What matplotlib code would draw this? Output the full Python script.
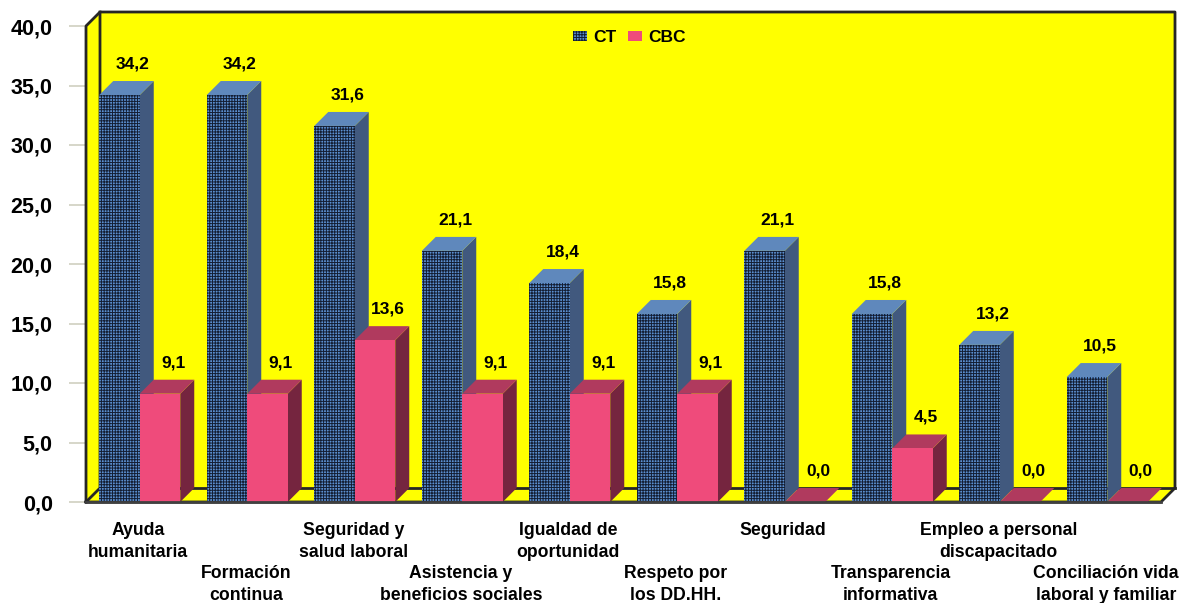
import matplotlib
matplotlib.use("Agg")
import matplotlib.pyplot as plt
from matplotlib.patches import Polygon, Rectangle

plt.rcParams["font.family"] = ["Liberation Sans", "DejaVu Sans"]
plt.rcParams["font.weight"] = "bold"
plt.rcParams["hatch.linewidth"] = 0.7

categorias = [
    "Ayuda\nhumanitaria", "Formación\ncontinua", "Seguridad y\nsalud laboral",
    "Asistencia y\nbeneficios sociales", "Igualdad de\noportunidad",
    "Respeto por\nlos DD.HH.", "Seguridad", "Transparencia\ninformativa",
    "Empleo a personal\ndiscapacitado", "Conciliación vida\nlaboral y familiar",
]
ct = [34.2, 34.2, 31.6, 21.1, 18.4, 15.8, 21.1, 15.8, 13.2, 10.5]
cbc = [9.1, 9.1, 13.6, 9.1, 9.1, 9.1, 0.0, 4.5, 0.0, 0.0]
ticks = [0, 5, 10, 15, 20, 25, 30, 35, 40]

W, H = 1186, 603
PX = 0.72  # puntos por pixel a dpi 100
fig = plt.figure(figsize=(W / 100, H / 100), dpi=100, facecolor="white")
ax = fig.add_axes([86 / W, 1 - 502 / H, 1075 / W, 476 / H])
ax.set_xlim(0, 10)
ax.set_ylim(0, 40)
ax.patch.set_visible(False)
for s in ax.spines.values():
    s.set_visible(False)

# profundidad 3D en unidades de datos
dx = 14 / 107.5
dy = 14 / 11.9
ancho = 40.5 / 107.5


def poly(pts, color, z):
    ax.add_patch(Polygon(pts, closed=True, facecolor=color, edgecolor="none", lw=0,
                         zorder=z, clip_on=False))


def barra(x0, v, frente, lado, tapa, z, hatch=None):
    x1 = x0 + ancho
    poly([(x1, 0), (x1 + dx, dy), (x1 + dx, v + dy), (x1, v)], lado, z)
    poly([(x0, v), (x0 + dx, v + dy), (x1 + dx, v + dy), (x1, v)], tapa, z)
    if v > 0:
        ax.add_patch(Rectangle((x0, 0), ancho, v, facecolor=frente, edgecolor="#141e33",
                               hatch=hatch, lw=0, zorder=z))


def etiqueta(x, v, valor):
    ax.annotate(f"{valor:.1f}".replace(".", ","), (x, v), xytext=(13 * PX, 31 * PX),
                textcoords="offset points", ha="center", va="center", fontsize=12.5, zorder=9)


# paredes y suelo
amarillo = "#ffff00"
borde = "#262626"
poly([(dx, dy), (10 + dx, dy), (10 + dx, 40 + dy), (dx, 40 + dy)], amarillo, 1)
poly([(0, 0), (dx, dy), (dx, 40 + dy), (0, 40)], amarillo, 1)
poly([(0, 0), (10, 0), (10 + dx, dy), (dx, dy)], amarillo, 1)
ax.plot([0, 0, dx, 10 + dx, 10 + dx, 10, 0], [0, 40, 40 + dy, 40 + dy, dy, 0, 0],
        color=borde, lw=2, zorder=2, clip_on=False)
ax.plot([0, dx, dx], [0, dy, 40 + dy], color=borde, lw=2, zorder=2, clip_on=False)
ax.plot([dx, 10 + dx], [dy, dy], color=borde, lw=2, zorder=2, clip_on=False)
ax.plot([0, 10], [0, 0], color="#404040", lw=2, zorder=8, clip_on=False)

for i in range(len(categorias)):
    c = i + 0.5
    barra(c - ancho, ct[i], "#5b8fd0", "#41597e", "#5f88bc", 4, hatch="++++++")
    barra(c, cbc[i], "#ef4b7b", "#75253f", "#b03a5e", 5)
    etiqueta(c - ancho / 2, ct[i], ct[i])
    etiqueta(c + ancho / 2, cbc[i], cbc[i])
    # etiquetas alternadas en dos alturas
    baja = 20 if i % 2 == 0 else 63
    ax.annotate(categorias[i], (c, 0), xytext=(-1.5 * PX, -baja * PX),
                textcoords="offset points", ha="center", va="top", fontsize=12.7,
                linespacing=1.42, annotation_clip=False)

ax.set_xticks([])
ax.set_yticks(ticks)
ax.set_yticklabels([f"{t:.1f}".replace(".", ",") for t in ticks], fontsize=15.5)
ax.tick_params(axis="y", length=12, width=1.2, color="#cfcfc0", pad=12)

# leyenda
ax.add_patch(Rectangle(((573 - 86) / 107.5, (502 - 41) / 11.9), 14 / 107.5, 10 / 11.9, facecolor="#5b8fd0",
                       edgecolor="#141e33", hatch="++++++", lw=0, zorder=9))
ax.add_patch(Rectangle(((628 - 86) / 107.5, (502 - 41) / 11.9), 14 / 107.5, 10 / 11.9, facecolor="#ef4b7b",
                       lw=0, zorder=9))
ax.text((593 - 86) / 107.5, (502 - 37) / 11.9, "CT", fontsize=12.5, va="center", ha="left", zorder=9)
ax.text((648 - 86) / 107.5, (502 - 37) / 11.9, "CBC", fontsize=12.5, va="center", ha="left", zorder=9)

fig.savefig("out.png", dpi=100)
